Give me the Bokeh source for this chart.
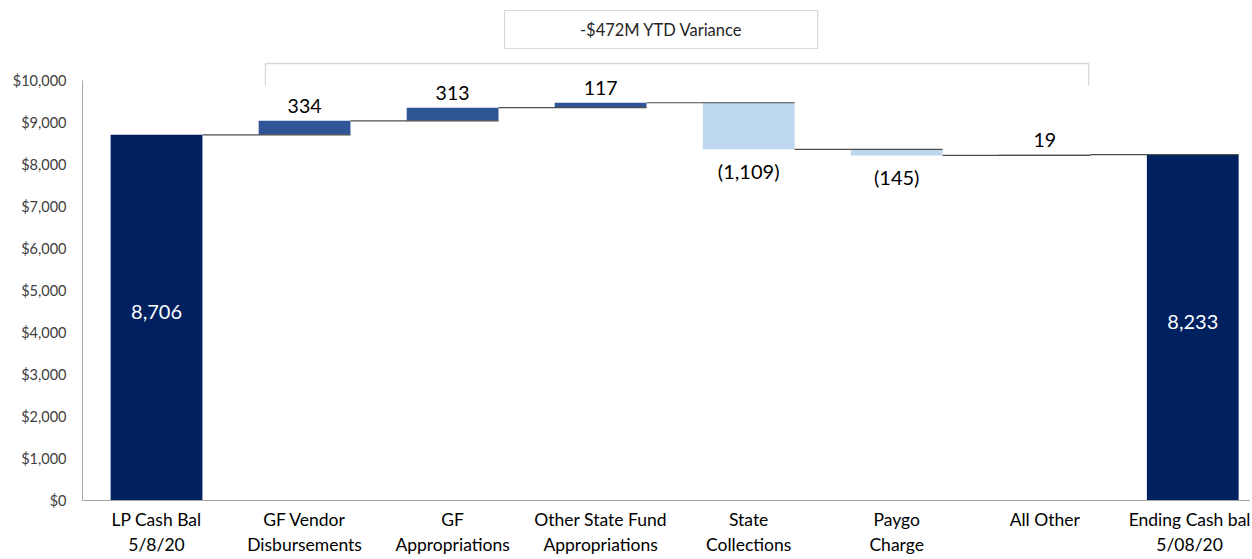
from bokeh.plotting import figure
from bokeh.models import Range1d, FixedTicker, NumeralTickFormatter, ColumnDataSource
from bokeh.core.properties import value
from bokeh.embed import file_html
from bokeh.resources import INLINE

# ---- data ----
categories = ["LP Cash Bal\n5/8/20", "GF Vendor\nDisbursements", "GF\nAppropriations",
              "Other State Fund\nAppropriations", "State\nCollections", "Paygo\nCharge",
              "All Other", "Ending Cash bal\n5/08/20"]
start_balance = 8706
changes = [334, 313, 117, -1109, -145, 19]
change_labels = ["334", "313", "117", "(1,109)", "(145)", "19"]
end_balance = 8233
total_labels = ["8,706", "8,233"]
variance_text = "-$472M YTD Variance"
y_ticks = [0, 1000, 2000, 3000, 4000, 5000, 6000, 7000, 8000, 9000, 10000]

# ---- style ----
FONT = "Lato"
C_TOTAL = "#002060"
C_UP = "#2F5597"
C_DOWN = "#BDD7EE"
BAR_W = 0.62

p = figure(width=1250, height=559, x_range=Range1d(-0.5, 7.39), y_range=Range1d(0, 11905),
           output_backend="svg", toolbar_location=None,
           min_border_left=82, min_border_right=0, min_border_top=0, min_border_bottom=59)
p.outline_line_color = None
p.xgrid.visible = False
p.ygrid.visible = False
p.background_fill_color = "white"
p.border_fill_color = "white"

xs = list(range(len(categories)))

# totals
tot_src = ColumnDataSource(dict(x=[xs[0], xs[-1]], top=[start_balance, end_balance],
                                ymid=[start_balance / 2, end_balance / 2], lab=total_labels))
p.vbar(x="x", top="top", bottom=0, width=BAR_W, source=tot_src, fill_color=C_TOTAL, line_color=None)

# changes
bottoms, tops, colors, levels = [], [], [], [start_balance]
lvl = start_balance
for c in changes:
    new = lvl + c
    bottoms.append(min(lvl, new))
    tops.append(max(lvl, new))
    colors.append(C_UP if c >= 0 else C_DOWN)
    lvl = new
    levels.append(lvl)
chg_x = xs[1:-1]
chg_src = ColumnDataSource(dict(x=chg_x, bottom=bottoms, top=tops, color=colors))
p.vbar(x="x", top="top", bottom="bottom", width=BAR_W, source=chg_src, fill_color="color", line_color=None)

# connectors
cx0, cx1, cy = [], [], []
for i, L in enumerate(levels):
    cx0.append(xs[i] + BAR_W / 2)
    cx1.append(xs[i + 1] + BAR_W / 2)
    cy.append(L)
p.segment(x0=cx0, y0=cy, x1=cx1, y1=cy, line_color="#4d4d4d", line_width=1.2)

# bar value labels
pos_x = [x for x, c in zip(chg_x, changes) if c >= 0]
pos_y = [t for t, c in zip(tops, changes) if c >= 0]
pos_t = [l for l, c in zip(change_labels, changes) if c >= 0]
neg_x = [x for x, c in zip(chg_x, changes) if c < 0]
neg_y = [b for b, c in zip(bottoms, changes) if c < 0]
neg_t = [l for l, c in zip(change_labels, changes) if c < 0]
p.text(x=pos_x, y=pos_y, text=pos_t, text_font=value(FONT), text_font_size="19.5px",
       text_align="center", text_baseline="middle", text_color="#000000", y_offset=-15)
p.text(x=neg_x, y=neg_y, text=neg_t, text_font=value(FONT), text_font_size="20px",
       text_align="center", text_baseline="middle", text_color="#000000", y_offset=22)
p.text(x="x", y="ymid", text="lab", source=tot_src, text_font=value(FONT), text_font_size="20px",
       text_align="center", text_baseline="middle", text_color="white", y_offset=-6)

# variance box and bracket
p.quad(left=2.351, right=4.466, bottom=10762, top=11667, fill_color="white",
       line_color="#d9d9d9", line_width=1.2)
p.text(x=[3.41], y=[11214], text=[variance_text], text_font=value(FONT), text_font_size="16.5px",
       text_align="center", text_baseline="middle", text_color="#262626")
p.line(x=[0.736, 0.736, 6.297, 6.297], y=[9881, 10405, 10405, 9881], line_color="#d9d9d9", line_width=1.3)

# axes
ya = p.yaxis[0]
ya.ticker = FixedTicker(ticks=y_ticks)
ya.formatter = NumeralTickFormatter(format="$0,0")
ya.bounds = (0, 10000)
ya.major_tick_out = 0
ya.major_tick_in = 0
ya.minor_tick_out = 0
ya.minor_tick_in = 0
ya.axis_line_color = "#a6a6a6"
ya.major_label_text_font = FONT
ya.major_label_text_font_size = "14.5px"
ya.major_label_text_color = "#404040"
ya.major_label_standoff = 16

xa = p.xaxis[0]
xa.ticker = FixedTicker(ticks=xs)
xa.major_label_overrides = {i: c for i, c in enumerate(categories)}
xa.major_tick_out = 0
xa.major_tick_in = 0
xa.minor_tick_out = 0
xa.minor_tick_in = 0
xa.axis_line_color = "#a6a6a6"
xa.major_label_text_font = FONT
xa.major_label_text_font_size = "17.5px"
xa.major_label_text_color = "#000000"
xa.major_label_standoff = 8

open("out.html", "w").write(file_html(p, INLINE))
